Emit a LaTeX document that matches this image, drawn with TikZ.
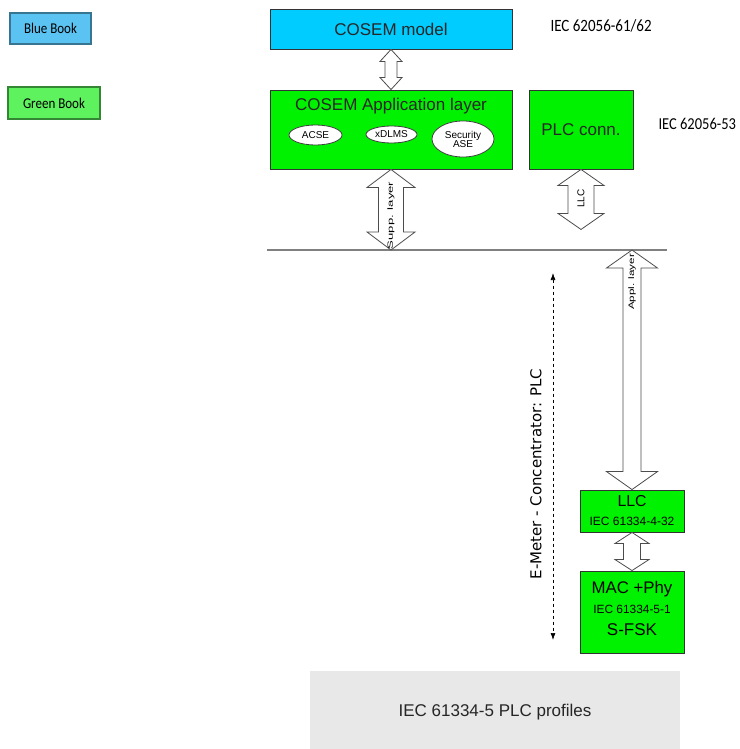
\documentclass[tikz,border=0pt]{standalone}
\usepackage{fontspec}
\setmainfont{Liberation Sans}
\newfontfamily\calib{Carlito}
\newfontfamily\dejavu{DejaVu Sans}
\usetikzlibrary{arrows, arrows.meta, calc, positioning, shapes.geometric}
\tikzset{>={Latex[length=7pt, width=5pt]}}
\definecolor{cosemblue}{HTML}{00CCFF}
\definecolor{layergreen}{HTML}{00F200}
\definecolor{bookblue}{HTML}{5BC3F2}
\definecolor{bookgreen}{HTML}{5EF25E}
\definecolor{profgray}{HTML}{E8E8E8}
\newcommand{\fs}[1]{\fontsize{#1}{#1}\selectfont}
\newcommand{\tall}[1]{\scalebox{1}[1.15]{#1}}
% hollow double arrow: top, bottom, head half width, shaft half width, head length
\newcommand{\hollowarr}[5]{%
  \draw[hollow] (#1) -- ($(#1)+(#3,#5)$) -- ($(#1)+(#4,#5)$)
    -- ($(#2)+(#4,-#5)$) -- ($(#2)+(#3,-#5)$) -- (#2)
    -- ($(#2)+(-#3,-#5)$) -- ($(#2)+(-#4,-#5)$)
    -- ($(#1)+(-#4,#5)$) -- ($(#1)+(-#3,#5)$) -- cycle;}
\tikzset{box/.style = {draw=black!80, line width=0.9pt, rectangle, inner sep=0, text=black!85}}
\tikzset{book/.style = {draw, line width=1.6pt, rectangle, inner sep=0, font=\calib\fs{13}}}
\tikzset{oval/.style = {draw=black!75, fill=white, ellipse, inner sep=0, font=\fs{10}, line width=0.8pt}}
\tikzset{hollow/.style = {draw=black!70, fill=white, line width=0.8pt, line join=miter}}
\tikzset{std/.style = {font=\calib\fs{15}, anchor=west}}

\begin{document}
\begin{tikzpicture}[x=1pt, y=-1pt, font=\fs{17}]
  \useasboundingbox (0,0) rectangle (739,749);
  % legend
  \node[book, fill=bookblue, draw=bookblue!60!black, minimum width=81pt, minimum height=31pt] (bb) at (50.5,28.5) {\tall{Blue Book}};
  \node[book, fill=bookgreen, draw=bookgreen!55!black, minimum width=92pt, minimum height=32pt] (gb) at (54,103) {\tall{Green Book}};

  % upper layers
  \path (391,29) node[box, fill=cosemblue, minimum width=242pt, minimum height=40pt] (cm) {COSEM model}
      ++(0,100.5) node[box, fill=layergreen, minimum width=242pt, minimum height=79pt] (al) {}
      ++(190,0) node[box, fill=layergreen, minimum width=104pt, minimum height=79pt] (plc) {PLC conn.};
  \node[text=black!85] (altitle) at ($(al.north)+(0,17)$) {COSEM Application layer};
  \node[oval, minimum width=53pt, minimum height=20pt] (acse) at ($(al.center)+(-75.5,5.5)$) {ACSE};
  \node[oval, minimum width=51pt, minimum height=17pt] (xdlms) at ($(al.center)+(0.5,5)$) {xDLMS};
  \node[oval, minimum width=62pt, minimum height=36pt, align=center] (sase) at ($(al.center)+(72,9.5)$) {Security\\[-1pt]ASE};
  \node[std] (std1) at (547,26) {\tall{IEC 62056-61/62}};
  \node[std, font=\calib\fs{14.5}] (std2) at (655,124) {\tall{IEC 62056-53}};

  % bus
  \coordinate (bus-w) at (267,250);
  \coordinate (bus-e) at (667,250);
  \draw[gray, line width=2.5pt] (bus-w) -- (bus-e);

  % lower layers
  \path (632,511) node[box, fill=layergreen, minimum width=104pt, minimum height=42pt] (llc) {}
      ++(0,101) node[box, fill=layergreen, minimum width=104pt, minimum height=82pt] (mac) {};
  \node (llc1) at ($(llc.north)+(0,12)$) {\fs{15.8}LLC};
  \node (llc2) at ($(llc.north)+(0,32)$) {\fs{12}IEC 61334-4-32};
  \node (mac1) at ($(mac.north)+(0,19)$) {\fs{16.8}MAC +Phy};
  \node (mac2) at ($(mac.north)+(0,39)$) {\fs{11.9}IEC 61334-5-1};
  \node (mac3) at ($(mac.north)+(0,59)$) {\fs{17}S-FSK};
  \node[fill=profgray, minimum width=370pt, minimum height=78pt, inner sep=0] (prof) at (495,710) {};
  \node[text=black!85] (proftxt) at (495,712) {IEC 61334-5 PLC profiles};

  % arrows
  \coordinate (suppB) at (al.south |- bus-w);
  \coordinate (llcB) at ($(plc.south)+(0,60)$);
  \coordinate (applT) at (llc.north |- bus-w);
  \hollowarr{cm.south}{al.north}{11}{6}{12}
  \hollowarr{al.south}{suppB}{24}{12.5}{18}
  \hollowarr{plc.south}{llcB}{23}{13}{16}
  \hollowarr{applT}{llc.north}{25.5}{9}{18}
  \hollowarr{llc.south}{mac.north}{17}{8.5}{11}
  \node[rotate=90] (supptxt) at ($(al.south)+(0,46)$) {\scalebox{1.75}[1]{\fs{7.5}Supp. layer}};
  \node[rotate=90] (llctxt) at ($(plc.south)+(0,29)$) {\fs{10}LLC};
  \node[rotate=90] (appltxt) at ($(applT)+(0,32)$) {\scalebox{1.45}[1]{\fs{8}Appl. layer}};

  % link span
  \coordinate (plc-top) at (553,273);
  \coordinate (plc-bot) at (553,640);
  \draw[<->, dashed, line width=0.7pt] (plc-top) -- (plc-bot);
  \node[rotate=90, font=\dejavu\fs{15}] (linktxt) at (536,474) {E-Meter - Concentrator: PLC};
\end{tikzpicture}
\end{document}
